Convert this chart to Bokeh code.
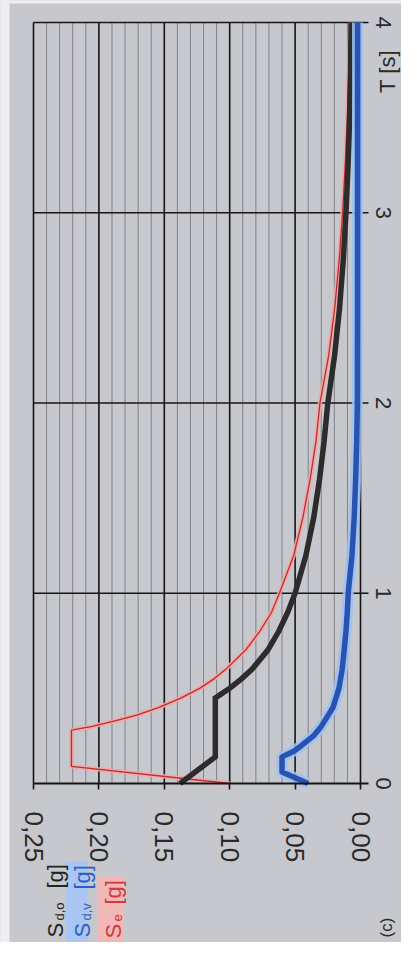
import math
from bokeh.plotting import figure
from bokeh.models import Range1d, FixedTicker, Label, BoxAnnotation
from bokeh.embed import file_html
from bokeh.resources import INLINE

# ---------------- data ----------------
# elastic spectrum S_e [g]
T_se = [0.0, 0.09, 0.28, 0.30, 0.33, 0.36, 0.40, 0.45, 0.50, 0.55, 0.60, 0.70, 0.80, 0.90, 1.00,
        1.20, 1.40, 1.60, 1.80, 2.00, 2.25, 2.50, 2.75, 3.00, 3.25, 3.50, 3.75, 4.00]
Se = [0.100, 0.221, 0.221, 0.205, 0.187, 0.171, 0.154, 0.137, 0.123, 0.112, 0.103, 0.088, 0.077, 0.068, 0.062,
      0.051, 0.044, 0.0385, 0.034, 0.031, 0.0243, 0.0197, 0.0163, 0.0137, 0.0117, 0.0101, 0.0088, 0.0077]

# design spectrum horizontal S_d,o [g]
T_sdo = [0.0, 0.14, 0.45, 0.50, 0.55, 0.60, 0.70, 0.80, 0.90, 1.00, 1.20, 1.40, 1.60, 1.80,
         2.00, 2.25, 2.50, 2.75, 3.00, 3.25, 3.50, 3.75, 4.00]
Sdo = [0.138, 0.111, 0.111, 0.100, 0.091, 0.083, 0.071, 0.0625, 0.0556, 0.050, 0.0417, 0.0357, 0.0313, 0.0278,
       0.025, 0.0198, 0.016, 0.0132, 0.0111, 0.0095, 0.0083, 0.0076, 0.0072]

# design spectrum vertical S_d,v [g]
T_sdv = [0.0, 0.06, 0.14, 0.17, 0.20, 0.25, 0.30, 0.40, 0.50, 0.60, 0.70, 0.80, 0.90, 1.00,
         1.20, 1.40, 1.60, 1.80, 2.00, 2.50, 3.00, 3.50, 4.00]
Sdv = [0.040, 0.060, 0.060, 0.051, 0.045, 0.036, 0.030, 0.021, 0.0165, 0.014, 0.0125, 0.0111, 0.0101, 0.0094,
       0.0065, 0.0048, 0.0037, 0.0029, 0.0024, 0.0023, 0.0023, 0.0023, 0.0023]

sa_ticks = [0.0, 0.05, 0.10, 0.15, 0.20, 0.25]
sa_tick_labels = ["0,00", "0,05", "0,10", "0,15", "0,20", "0,25"]
t_ticks = [0, 1, 2, 3, 4]
t_tick_labels = ["0", "1", "2", "3", "4"]

# ---------------- geometry ----------------
W, H = 401, 942
# plot region in canvas pixels: Sa=0.25 at x=33, Sa=0 at x=360; T=4 at y=22, T=0 at y=783
PX_SA = 327.0 / 0.25
PX_T = (783.0 - 22.0) / 4.0
X0_SA, X0_PX = 0.25, 33.0
Y0_PX = 783.0

def sx(px):   # canvas x -> Sa
    return X0_SA - (px - X0_PX) / PX_SA

def sy(py):   # canvas y (from top) -> T
    return (Y0_PX - py) / PX_T

SA_END = sx(368)          # right end of the grid
BG = "#c7c8cd"

p = figure(width=W, height=H, output_backend="svg", toolbar_location=None,
           x_range=Range1d(sx(0), sx(W)), y_range=Range1d(sy(H), sy(0)),
           y_axis_location="right",
           min_border_left=0, min_border_right=0, min_border_top=0, min_border_bottom=0)
p.background_fill_color = BG
p.border_fill_color = BG
p.outline_line_color = None
p.grid.visible = False

# light strips at the scanned page edge
p.add_layout(BoxAnnotation(left=sx(0), right=sx(9), top=sy(0), bottom=sy(H),
                           fill_color="#eeeef0", fill_alpha=1.0, line_color=None))
p.add_layout(BoxAnnotation(left=sx(0), right=sx(W), top=sy(0), bottom=sy(3),
                           fill_color="#eeeef0", fill_alpha=1.0, line_color=None))

# grid lines limited to the plot region
minor_sa = [i / 100 for i in range(0, 26) if i % 5]
p.segment(x0=minor_sa, y0=[t_ticks[0]] * len(minor_sa), x1=minor_sa, y1=[t_ticks[-1]] * len(minor_sa),
          line_color="#808187", line_width=1.0)
p.segment(x0=sa_ticks, y0=[t_ticks[0]] * len(sa_ticks), x1=sa_ticks, y1=[t_ticks[-1]] * len(sa_ticks),
          line_color="#151515", line_width=1.6)
p.segment(x0=[sa_ticks[-1]] * 4, y0=t_ticks[1:], x1=[SA_END] * 4, y1=t_ticks[1:],
          line_color="#151515", line_width=1.6)

# bottom axis (Sa) placed at T = 0
xa = p.xaxis[0]
xa.fixed_location = 0
xa.bounds = (SA_END, 0.25)
xa.ticker = FixedTicker(ticks=sa_ticks)
xa.major_label_overrides = dict(zip(sa_ticks, sa_tick_labels))
xa.major_label_orientation = "vertical"
xa.major_label_text_font = "Liberation Sans"
xa.major_label_text_font_size = "26px"
xa.major_label_text_color = "#2a2a2a"
xa.major_label_standoff = 22
xa.axis_line_color = "#151515"
xa.axis_line_width = 2
xa.major_tick_line_color = "#151515"
xa.major_tick_line_width = 1.6
xa.major_tick_out = 6
xa.major_tick_in = 0
xa.minor_tick_line_color = None

# right axis (T) placed at the right end of the grid
ya = p.yaxis[0]
ya.fixed_location = SA_END
ya.bounds = (0, 4)
ya.ticker = FixedTicker(ticks=t_ticks)
ya.major_label_overrides = dict(zip(t_ticks, t_tick_labels))
ya.major_label_orientation = "vertical"
ya.major_label_text_font = "Liberation Sans"
ya.major_label_text_font_size = "22px"
ya.major_label_text_color = "#2a2a2a"
ya.major_label_standoff = 7
ya.axis_line_color = None
ya.major_tick_line_color = None
ya.minor_tick_line_color = None
ya.major_tick_out = 0
ya.major_tick_in = 0

# curves (x = Sa, y = T)
p.line(Se, T_se, line_color="#f3a5a5", line_width=4.5, line_alpha=0.9)
p.line(Se, T_se, line_color="#b8302e", line_width=1.3)
p.line(Sdo, T_sdo, line_color="#2c2c2c", line_width=5.5, line_join="miter")
p.line(Sdv, T_sdv, line_color="#9cc1f0", line_width=11, line_alpha=0.85, line_join="round")
p.line(Sdv, T_sdv, line_color="#2853b3", line_width=5.5, line_join="round")

ANG = math.pi / 2
FONT = "Liberation Sans"

# axis caption "T [s]"
p.add_layout(Label(x=sx(387), y=sy(71), text="T [s]", angle=ANG,
                   text_align="center", text_baseline="middle",
                   text_font=FONT, text_font_size="22px", text_color="#2a2a2a"))

# legend highlights
p.add_layout(BoxAnnotation(left=sx(65), right=sx(87), top=sy(861), bottom=sy(941),
                           fill_color="#a9c6f2", fill_alpha=1.0, line_color=None))
p.add_layout(BoxAnnotation(left=sx(97), right=sx(123), top=sy(876), bottom=sy(941),
                           fill_color="#f2b8b8", fill_alpha=1.0, line_color=None))

def legend_entry(base_px, s_start, sub, sub_start, br_start, color):
    p.add_layout(Label(x=sx(base_px), y=sy(s_start), text="S", angle=ANG,
                       text_align="left", text_baseline="alphabetic",
                       text_font=FONT, text_font_size="22px", text_color=color))
    p.add_layout(Label(x=sx(base_px + 4), y=sy(sub_start), text=sub, angle=ANG,
                       text_align="left", text_baseline="alphabetic",
                       text_font=FONT, text_font_size="13px", text_color=color))
    p.add_layout(Label(x=sx(base_px), y=sy(br_start), text="[g]", angle=ANG,
                       text_align="left", text_baseline="alphabetic",
                       text_font=FONT, text_font_size="22px", text_color=color))

legend_entry(55, 937, "d,o", 920, 888, "#232323")
legend_entry(82, 937, "d,v", 920, 889, "#2c5fc6")
legend_entry(113, 938, "e", 921, 904, "#d03a3a")

# panel mark
p.add_layout(Label(x=sx(386), y=sy(937), text="(c)", angle=ANG,
                   text_align="left", text_baseline="middle",
                   text_font=FONT, text_font_size="17px", text_color="#2a2a2a"))

open("out.html", "w").write(file_html(p, INLINE))
